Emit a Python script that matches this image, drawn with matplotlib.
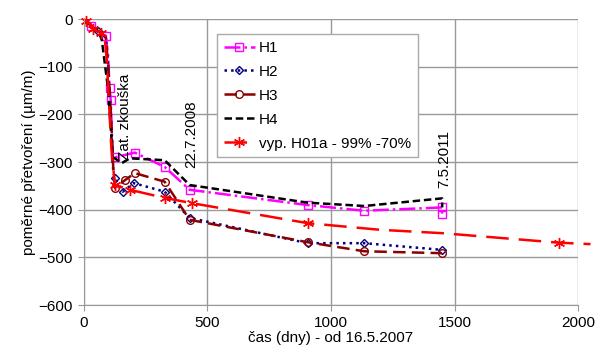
import matplotlib
matplotlib.use("Agg")
import matplotlib.pyplot as plt

plt.rcParams["font.family"] = ["Liberation Sans", "DejaVu Sans"]

# data (days since 16.5.2007, strain in um/m)
h1_x = [0, 15, 30, 45, 60, 75, 90, 100, 105, 110, 118, 126, 207, 328, 429, 906, 1135, 1450, 1450]
h1_y = [0, -5, -15, -20, -25, -30, -35, -80, -145, -170, -290, -290, -280, -310, -358, -390, -402, -395, -408]
h1_marks = [0, 2, 6, 8, 9, 11, 12, 13, 14, 15, 16, 17, 18]

h2_x = [0, 15, 30, 45, 60, 75, 90, 100, 110, 120, 127, 159, 203, 328, 429, 906, 1135, 1450]
h2_y = [0, -5, -15, -20, -25, -30, -40, -110, -200, -320, -334, -362, -344, -362, -417, -470, -470, -484]
h2_marks = [0, 4, 10, 11, 12, 13, 14, 15, 16, 17]

h3_x = [0, 15, 30, 45, 60, 75, 90, 100, 110, 120, 127, 167, 207, 328, 429, 906, 1135, 1450]
h3_y = [0, -5, -12, -20, -25, -30, -38, -100, -190, -310, -354, -338, -323, -341, -421, -468, -487, -491]
h3_marks = [0, 10, 11, 12, 13, 14, 15, 16, 17]

h4_x = [0, 30, 60, 74, 100, 118, 155, 187, 328, 429, 906, 1135, 1450, 1450]
h4_y = [0, -15, -25, -44, -150, -289, -302, -292, -296, -348, -385, -392, -376, -395]

vyp_x = [0, 10, 25, 40, 55, 70, 85, 94, 113, 127, 187, 328, 437, 906, 1200, 1450, 1922, 2050]
vyp_y = [0, -5, -10, -20, -25, -30, -35, -86, -275, -348, -358, -375, -386, -428, -442, -449, -469, -472]
vyp_marks = [1, 3, 5, 9, 10, 11, 12, 13, 16]

notes = [("Zat. zkouška", 167, -296), ("22.7.2008", 437, -312), ("7.5.2011", 1458, -355)]

fig = plt.figure(figsize=(6.01, 3.54), dpi=100)
ax = fig.add_axes([0.139, 0.138, 0.823, 0.808])

ax.plot(h1_x, h1_y, color="#ff00ff", ls="-.", lw=1.8, marker="s", ms=5.5,
        mfc="none", mec="#ff00ff", markevery=h1_marks, label="H1")
ax.plot(h2_x, h2_y, color="#000080", ls=":", lw=1.8, marker="D", ms=4.5,
        mfc="none", mec="#000080", markevery=h2_marks, label="H2")
ax.plot(h3_x, h3_y, color="#8b0000", ls=(0, (5, 2.5)), lw=1.8, marker="o", ms=5.5,
        mfc="none", mec="#8b0000", markevery=h3_marks, label="H3")
ax.plot(h4_x, h4_y, color="black", ls=(0, (3, 1.5)), lw=1.8, label="H4")
ax.plot(vyp_x, vyp_y, color="#ff0000", ls=(0, (9, 4)), lw=1.8, marker=(6, 2, 0), ms=8,
        markevery=vyp_marks, label="vyp. H01a - 99% -70%", clip_on=False)

for txt, x, y in notes:
    ax.text(x, y, txt, rotation=90, ha="center", va="bottom", fontsize=11)

ax.set_xlim(0, 2000)
ax.set_ylim(-600, 0)
ax.set_xticks([0, 500, 1000, 1500, 2000])
ax.set_yticks(range(-600, 1, 100))
ax.grid(True, color="#999999", lw=1)
for s in ["top", "right"]:
    ax.spines[s].set_visible(False)
for s in ["left", "bottom"]:
    ax.spines[s].set_color("#999999")
ax.tick_params(colors="#999999", labelcolor="black", labelsize=11, length=4)

ax.set_xlabel("čas (dny) - od 16.5.2007", fontsize=11, labelpad=1)
ax.set_ylabel("poměrné přetvoření (µm/m)", fontsize=11, labelpad=2)

leg = ax.legend(loc="upper left", bbox_to_anchor=(0.27, 0.948), borderaxespad=0,
                fontsize=11, handlelength=2.0, handletextpad=0.3, labelspacing=0.65,
                fancybox=False, framealpha=1, borderpad=0.45)
leg.get_frame().set_edgecolor("#aaaaaa")

fig.savefig("out.png", dpi=100)
